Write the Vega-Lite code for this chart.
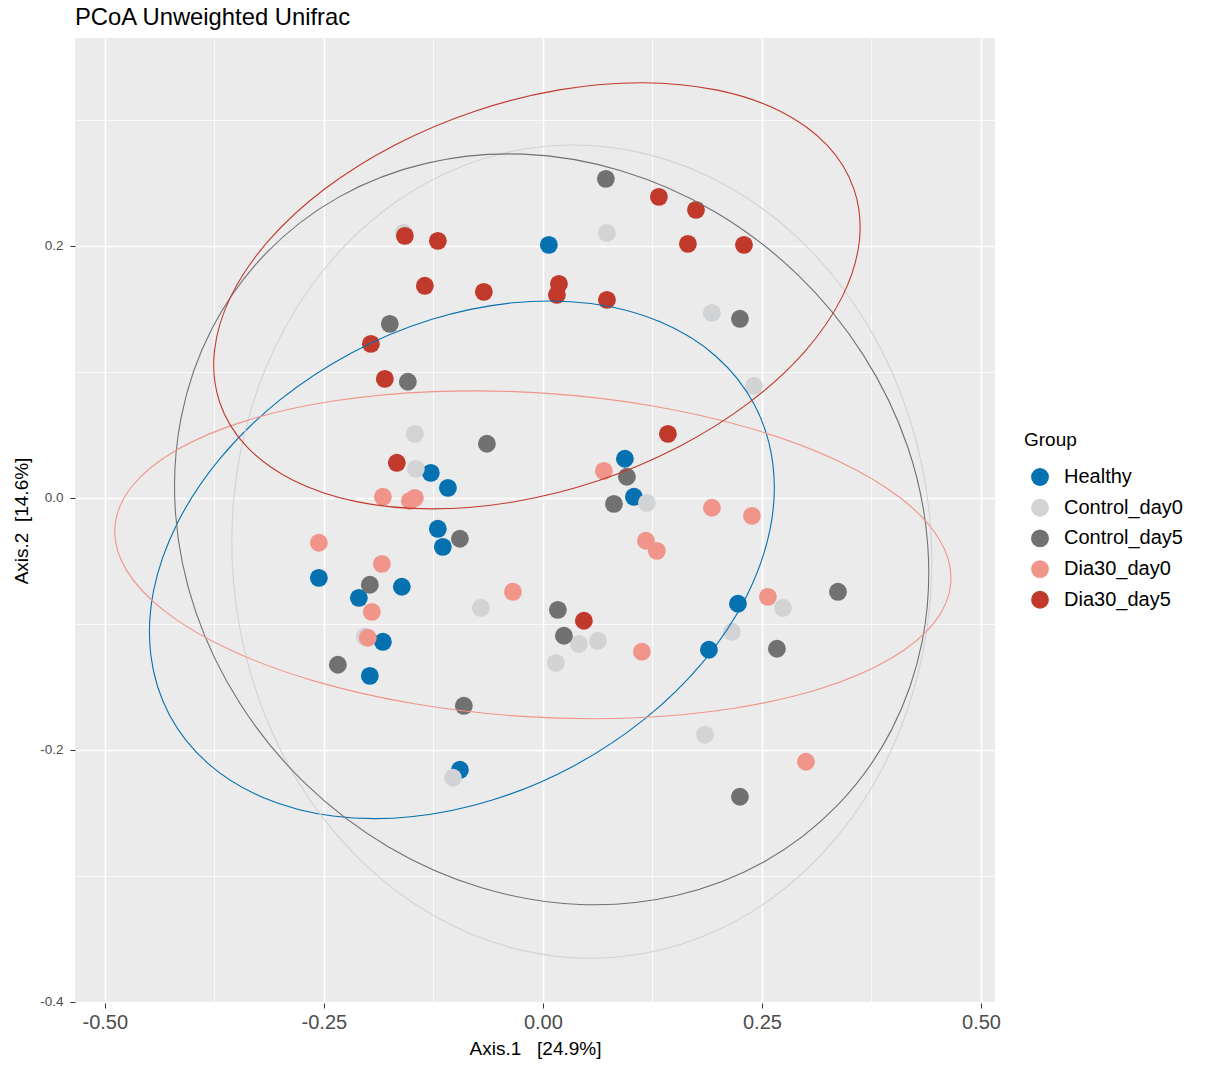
{
  "$schema": "https://vega.github.io/schema/vega-lite/v6.json",
  "autosize": {"type": "none"},
  "padding": {"left": 75, "top": 38, "right": 211, "bottom": 62},
  "width": 920,
  "height": 965,
  "background": "white",
  "title": {"text": "PCoA Unweighted Unifrac", "anchor": "start", "frame": "group", "fontSize": 23.8, "fontWeight": "normal", "font": "Liberation Sans", "color": "#000000", "offset": 8},
  "config": {
    "view": {"fill": "#EBEBEB", "stroke": null},
    "font": "Liberation Sans",
    "axis": {"domain": false, "gridColor": "#FFFFFF", "tickColor": "#333333", "tickSize": 5, "labelColor": "#4D4D4D", "titleColor": "#000000", "titleFontWeight": "normal", "labelFont": "Liberation Sans", "titleFont": "Liberation Sans"}
  },
  "datasets": {
    "points": [
      {"group": "Healthy", "x": 0.0068, "y": 0.2008},
      {"group": "Healthy", "x": -0.1279, "y": 0.0198},
      {"group": "Healthy", "x": -0.1084, "y": 0.0079},
      {"group": "Healthy", "x": 0.0936, "y": 0.0310},
      {"group": "Healthy", "x": 0.1039, "y": 0.0008},
      {"group": "Healthy", "x": -0.1199, "y": -0.0246},
      {"group": "Healthy", "x": -0.1142, "y": -0.0389},
      {"group": "Healthy", "x": -0.2557, "y": -0.0635},
      {"group": "Healthy", "x": -0.2100, "y": -0.0794},
      {"group": "Healthy", "x": -0.1610, "y": -0.0706},
      {"group": "Healthy", "x": -0.1826, "y": -0.1143},
      {"group": "Healthy", "x": -0.1975, "y": -0.1413},
      {"group": "Healthy", "x": 0.2226, "y": -0.0841},
      {"group": "Healthy", "x": 0.1895, "y": -0.1206},
      {"group": "Healthy", "x": -0.0947, "y": -0.2159},
      {"group": "Control_day0", "x": -0.1587, "y": 0.2103},
      {"group": "Control_day0", "x": 0.0731, "y": 0.2103},
      {"group": "Control_day0", "x": 0.1929, "y": 0.1468},
      {"group": "Control_day0", "x": 0.2409, "y": 0.0889},
      {"group": "Control_day0", "x": -0.1461, "y": 0.0508},
      {"group": "Control_day0", "x": -0.1450, "y": 0.0230},
      {"group": "Control_day0", "x": 0.1187, "y": -0.0040},
      {"group": "Control_day0", "x": -0.0708, "y": -0.0873},
      {"group": "Control_day0", "x": 0.0148, "y": -0.1310},
      {"group": "Control_day0", "x": 0.0411, "y": -0.1159},
      {"group": "Control_day0", "x": 0.0628, "y": -0.1135},
      {"group": "Control_day0", "x": 0.2158, "y": -0.1063},
      {"group": "Control_day0", "x": 0.2740, "y": -0.0873},
      {"group": "Control_day0", "x": 0.1849, "y": -0.1881},
      {"group": "Control_day0", "x": -0.1027, "y": -0.2222},
      {"group": "Control_day0", "x": -0.2032, "y": -0.1103},
      {"group": "Control_day5", "x": 0.0719, "y": 0.2532},
      {"group": "Control_day5", "x": 0.2249, "y": 0.1421},
      {"group": "Control_day5", "x": -0.1747, "y": 0.1381},
      {"group": "Control_day5", "x": -0.1541, "y": 0.0921},
      {"group": "Control_day5", "x": -0.0639, "y": 0.0429},
      {"group": "Control_day5", "x": 0.0959, "y": 0.0167},
      {"group": "Control_day5", "x": 0.0811, "y": -0.0048},
      {"group": "Control_day5", "x": -0.0947, "y": -0.0325},
      {"group": "Control_day5", "x": -0.1975, "y": -0.0690},
      {"group": "Control_day5", "x": -0.2340, "y": -0.1325},
      {"group": "Control_day5", "x": 0.0171, "y": -0.0889},
      {"group": "Control_day5", "x": 0.0240, "y": -0.1095},
      {"group": "Control_day5", "x": 0.3368, "y": -0.0746},
      {"group": "Control_day5", "x": 0.2671, "y": -0.1198},
      {"group": "Control_day5", "x": -0.0902, "y": -0.1651},
      {"group": "Control_day5", "x": 0.2249, "y": -0.2373},
      {"group": "Dia30_day0", "x": 0.0696, "y": 0.0214},
      {"group": "Dia30_day0", "x": -0.1826, "y": 0.0008},
      {"group": "Dia30_day0", "x": -0.1518, "y": -0.0024},
      {"group": "Dia30_day0", "x": -0.1461, "y": 0.0000},
      {"group": "Dia30_day0", "x": -0.2557, "y": -0.0357},
      {"group": "Dia30_day0", "x": -0.1838, "y": -0.0524},
      {"group": "Dia30_day0", "x": -0.1952, "y": -0.0905},
      {"group": "Dia30_day0", "x": -0.1998, "y": -0.1111},
      {"group": "Dia30_day0", "x": -0.0342, "y": -0.0746},
      {"group": "Dia30_day0", "x": 0.1176, "y": -0.0341},
      {"group": "Dia30_day0", "x": 0.1301, "y": -0.0421},
      {"group": "Dia30_day0", "x": 0.1929, "y": -0.0079},
      {"group": "Dia30_day0", "x": 0.2386, "y": -0.0143},
      {"group": "Dia30_day0", "x": 0.2568, "y": -0.0786},
      {"group": "Dia30_day0", "x": 0.1130, "y": -0.1222},
      {"group": "Dia30_day0", "x": 0.3002, "y": -0.2095},
      {"group": "Dia30_day5", "x": 0.1324, "y": 0.2389},
      {"group": "Dia30_day5", "x": 0.1747, "y": 0.2286},
      {"group": "Dia30_day5", "x": 0.1655, "y": 0.2016},
      {"group": "Dia30_day5", "x": 0.2295, "y": 0.2008},
      {"group": "Dia30_day5", "x": -0.1575, "y": 0.2079},
      {"group": "Dia30_day5", "x": -0.1199, "y": 0.2040},
      {"group": "Dia30_day5", "x": -0.1347, "y": 0.1683},
      {"group": "Dia30_day5", "x": -0.0674, "y": 0.1635},
      {"group": "Dia30_day5", "x": 0.0183, "y": 0.1698},
      {"group": "Dia30_day5", "x": 0.0160, "y": 0.1611},
      {"group": "Dia30_day5", "x": 0.0731, "y": 0.1571},
      {"group": "Dia30_day5", "x": -0.1963, "y": 0.1222},
      {"group": "Dia30_day5", "x": -0.1804, "y": 0.0944},
      {"group": "Dia30_day5", "x": -0.1667, "y": 0.0278},
      {"group": "Dia30_day5", "x": 0.1427, "y": 0.0508},
      {"group": "Dia30_day5", "x": 0.0468, "y": -0.0976}
    ],
    "ellipses": [
      {"group": "Healthy", "i": 1, "x": 0.2413, "y": 0.0740},
      {"group": "Healthy", "i": 2, "x": 0.2624, "y": 0.0273},
      {"group": "Healthy", "i": 3, "x": 0.2594, "y": -0.0247},
      {"group": "Healthy", "i": 4, "x": 0.2323, "y": -0.0783},
      {"group": "Healthy", "i": 5, "x": 0.1831, "y": -0.1300},
      {"group": "Healthy", "i": 6, "x": 0.1152, "y": -0.1761},
      {"group": "Healthy", "i": 7, "x": 0.0331, "y": -0.2136},
      {"group": "Healthy", "i": 8, "x": -0.0576, "y": -0.2399},
      {"group": "Healthy", "i": 9, "x": -0.1506, "y": -0.2532},
      {"group": "Healthy", "i": 10, "x": -0.2397, "y": -0.2526},
      {"group": "Healthy", "i": 11, "x": -0.3187, "y": -0.2381},
      {"group": "Healthy", "i": 12, "x": -0.3823, "y": -0.2108},
      {"group": "Healthy", "i": 13, "x": -0.4262, "y": -0.1724},
      {"group": "Healthy", "i": 14, "x": -0.4473, "y": -0.1257},
      {"group": "Healthy", "i": 15, "x": -0.4443, "y": -0.0737},
      {"group": "Healthy", "i": 16, "x": -0.4172, "y": -0.0201},
      {"group": "Healthy", "i": 17, "x": -0.3681, "y": 0.0315},
      {"group": "Healthy", "i": 18, "x": -0.3001, "y": 0.0777},
      {"group": "Healthy", "i": 19, "x": -0.2180, "y": 0.1152},
      {"group": "Healthy", "i": 20, "x": -0.1274, "y": 0.1415},
      {"group": "Healthy", "i": 21, "x": -0.0343, "y": 0.1548},
      {"group": "Healthy", "i": 22, "x": 0.0547, "y": 0.1542},
      {"group": "Healthy", "i": 23, "x": 0.1338, "y": 0.1397},
      {"group": "Healthy", "i": 24, "x": 0.1974, "y": 0.1124},
      {"group": "Control_day0", "i": 1, "x": 0.0815, "y": -0.3647},
      {"group": "Control_day0", "i": 2, "x": -0.0227, "y": -0.3594},
      {"group": "Control_day0", "i": 3, "x": -0.1223, "y": -0.3326},
      {"group": "Control_day0", "i": 4, "x": -0.2106, "y": -0.2860},
      {"group": "Control_day0", "i": 5, "x": -0.2815, "y": -0.2229},
      {"group": "Control_day0", "i": 6, "x": -0.3301, "y": -0.1474},
      {"group": "Control_day0", "i": 7, "x": -0.3533, "y": -0.0648},
      {"group": "Control_day0", "i": 8, "x": -0.3493, "y": 0.0192},
      {"group": "Control_day0", "i": 9, "x": -0.3186, "y": 0.0991},
      {"group": "Control_day0", "i": 10, "x": -0.2630, "y": 0.1693},
      {"group": "Control_day0", "i": 11, "x": -0.1866, "y": 0.2251},
      {"group": "Control_day0", "i": 12, "x": -0.0943, "y": 0.2626},
      {"group": "Control_day0", "i": 13, "x": 0.0073, "y": 0.2793},
      {"group": "Control_day0", "i": 14, "x": 0.1115, "y": 0.2740},
      {"group": "Control_day0", "i": 15, "x": 0.2112, "y": 0.2472},
      {"group": "Control_day0", "i": 16, "x": 0.2994, "y": 0.2006},
      {"group": "Control_day0", "i": 17, "x": 0.3703, "y": 0.1375},
      {"group": "Control_day0", "i": 18, "x": 0.4190, "y": 0.0620},
      {"group": "Control_day0", "i": 19, "x": 0.4421, "y": -0.0206},
      {"group": "Control_day0", "i": 20, "x": 0.4382, "y": -0.1046},
      {"group": "Control_day0", "i": 21, "x": 0.4074, "y": -0.1845},
      {"group": "Control_day0", "i": 22, "x": 0.3518, "y": -0.2547},
      {"group": "Control_day0", "i": 23, "x": 0.2754, "y": -0.3105},
      {"group": "Control_day0", "i": 24, "x": 0.1832, "y": -0.3480},
      {"group": "Control_day5", "i": 1, "x": 0.3363, "y": -0.2440},
      {"group": "Control_day5", "i": 2, "x": 0.2526, "y": -0.2889},
      {"group": "Control_day5", "i": 3, "x": 0.1523, "y": -0.3157},
      {"group": "Control_day5", "i": 4, "x": 0.0423, "y": -0.3228},
      {"group": "Control_day5", "i": 5, "x": -0.0699, "y": -0.3095},
      {"group": "Control_day5", "i": 6, "x": -0.1766, "y": -0.2769},
      {"group": "Control_day5", "i": 7, "x": -0.2707, "y": -0.2271},
      {"group": "Control_day5", "i": 8, "x": -0.3455, "y": -0.1635},
      {"group": "Control_day5", "i": 9, "x": -0.3962, "y": -0.0905},
      {"group": "Control_day5", "i": 10, "x": -0.4192, "y": -0.0130},
      {"group": "Control_day5", "i": 11, "x": -0.4129, "y": 0.0636},
      {"group": "Control_day5", "i": 12, "x": -0.3778, "y": 0.1342},
      {"group": "Control_day5", "i": 13, "x": -0.3162, "y": 0.1940},
      {"group": "Control_day5", "i": 14, "x": -0.2325, "y": 0.2389},
      {"group": "Control_day5", "i": 15, "x": -0.1322, "y": 0.2657},
      {"group": "Control_day5", "i": 16, "x": -0.0222, "y": 0.2728},
      {"group": "Control_day5", "i": 17, "x": 0.0900, "y": 0.2595},
      {"group": "Control_day5", "i": 18, "x": 0.1967, "y": 0.2269},
      {"group": "Control_day5", "i": 19, "x": 0.2907, "y": 0.1771},
      {"group": "Control_day5", "i": 20, "x": 0.3656, "y": 0.1135},
      {"group": "Control_day5", "i": 21, "x": 0.4163, "y": 0.0405},
      {"group": "Control_day5", "i": 22, "x": 0.4392, "y": -0.0370},
      {"group": "Control_day5", "i": 23, "x": 0.4330, "y": -0.1136},
      {"group": "Control_day5", "i": 24, "x": 0.3979, "y": -0.1842},
      {"group": "Dia30_day0", "i": 1, "x": 0.4656, "y": -0.0670},
      {"group": "Dia30_day0", "i": 2, "x": 0.4462, "y": -0.0995},
      {"group": "Dia30_day0", "i": 3, "x": 0.3957, "y": -0.1282},
      {"group": "Dia30_day0", "i": 4, "x": 0.3173, "y": -0.1514},
      {"group": "Dia30_day0", "i": 5, "x": 0.2166, "y": -0.1672},
      {"group": "Dia30_day0", "i": 6, "x": 0.1004, "y": -0.1748},
      {"group": "Dia30_day0", "i": 7, "x": -0.0235, "y": -0.1735},
      {"group": "Dia30_day0", "i": 8, "x": -0.1466, "y": -0.1635},
      {"group": "Dia30_day0", "i": 9, "x": -0.2604, "y": -0.1455},
      {"group": "Dia30_day0", "i": 10, "x": -0.3573, "y": -0.1206},
      {"group": "Dia30_day0", "i": 11, "x": -0.4306, "y": -0.0905},
      {"group": "Dia30_day0", "i": 12, "x": -0.4753, "y": -0.0574},
      {"group": "Dia30_day0", "i": 13, "x": -0.4885, "y": -0.0235},
      {"group": "Dia30_day0", "i": 14, "x": -0.4691, "y": 0.0090},
      {"group": "Dia30_day0", "i": 15, "x": -0.4185, "y": 0.0378},
      {"group": "Dia30_day0", "i": 16, "x": -0.3402, "y": 0.0609},
      {"group": "Dia30_day0", "i": 17, "x": -0.2395, "y": 0.0768},
      {"group": "Dia30_day0", "i": 18, "x": -0.1232, "y": 0.0843},
      {"group": "Dia30_day0", "i": 19, "x": 0.0007, "y": 0.0831},
      {"group": "Dia30_day0", "i": 20, "x": 0.1238, "y": 0.0731},
      {"group": "Dia30_day0", "i": 21, "x": 0.2376, "y": 0.0550},
      {"group": "Dia30_day0", "i": 22, "x": 0.3345, "y": 0.0301},
      {"group": "Dia30_day0", "i": 23, "x": 0.4078, "y": 0.0001},
      {"group": "Dia30_day0", "i": 24, "x": 0.4525, "y": -0.0331},
      {"group": "Dia30_day5", "i": 1, "x": 0.3552, "y": 0.2447},
      {"group": "Dia30_day5", "i": 2, "x": 0.3612, "y": 0.2039},
      {"group": "Dia30_day5", "i": 3, "x": 0.3420, "y": 0.1601},
      {"group": "Dia30_day5", "i": 4, "x": 0.2991, "y": 0.1163},
      {"group": "Dia30_day5", "i": 5, "x": 0.2354, "y": 0.0756},
      {"group": "Dia30_day5", "i": 6, "x": 0.1551, "y": 0.0406},
      {"group": "Dia30_day5", "i": 7, "x": 0.0638, "y": 0.0137},
      {"group": "Dia30_day5", "i": 8, "x": -0.0323, "y": -0.0031},
      {"group": "Dia30_day5", "i": 9, "x": -0.1267, "y": -0.0088},
      {"group": "Dia30_day5", "i": 10, "x": -0.2129, "y": -0.0030},
      {"group": "Dia30_day5", "i": 11, "x": -0.2851, "y": 0.0140},
      {"group": "Dia30_day5", "i": 12, "x": -0.3383, "y": 0.0409},
      {"group": "Dia30_day5", "i": 13, "x": -0.3689, "y": 0.0759},
      {"group": "Dia30_day5", "i": 14, "x": -0.3748, "y": 0.1168},
      {"group": "Dia30_day5", "i": 15, "x": -0.3557, "y": 0.1605},
      {"group": "Dia30_day5", "i": 16, "x": -0.3128, "y": 0.2043},
      {"group": "Dia30_day5", "i": 17, "x": -0.2491, "y": 0.2451},
      {"group": "Dia30_day5", "i": 18, "x": -0.1688, "y": 0.2801},
      {"group": "Dia30_day5", "i": 19, "x": -0.0775, "y": 0.3069},
      {"group": "Dia30_day5", "i": 20, "x": 0.0186, "y": 0.3238},
      {"group": "Dia30_day5", "i": 21, "x": 0.1130, "y": 0.3295},
      {"group": "Dia30_day5", "i": 22, "x": 0.1992, "y": 0.3236},
      {"group": "Dia30_day5", "i": 23, "x": 0.2714, "y": 0.3067},
      {"group": "Dia30_day5", "i": 24, "x": 0.3246, "y": 0.2798}
    ]
  },
  "layer": [
    {
      "data": {"name": "points"},
      "mark": {"type": "point", "filled": true, "opacity": 1, "size": 320, "strokeWidth": 0},
      "encoding": {
        "x": {
          "field": "x", "type": "quantitative",
          "scale": {"domain": [-0.534, 0.516], "nice": false, "zero": false},
          "axis": {"values": [-0.5, -0.25, 0, 0.25, 0.5], "labelExpr": "replace(format(datum.value, '.2f'), '\u2212', '-')", "labelFontSize": 20, "labelPadding": 4, "grid": true, "gridWidth": 1.6, "title": "Axis.1\u00a0\u00a0\u00a0[24.9%]", "titleFontSize": 19, "titlePadding": 7}
        },
        "y": {
          "field": "y", "type": "quantitative",
          "scale": {"domain": [-0.401, 0.365], "nice": false, "zero": false},
          "axis": {"values": [-0.4, -0.2, 0, 0.2], "labelExpr": "replace(format(datum.value, '.1f'), '\u2212', '-')", "labelFontSize": 13.5, "labelPadding": 7, "grid": true, "gridWidth": 1.6, "title": "Axis.2\u00a0\u00a0[14.6%]", "titleFontSize": 19, "titlePadding": 8}
        },
        "color": {
          "field": "group", "type": "nominal",
          "scale": {"domain": ["Healthy", "Control_day0", "Control_day5", "Dia30_day0", "Dia30_day5"], "range": ["#0571B0", "#D1D3D4", "#717171", "#F1948A", "#C0392B"]},
          "legend": {"title": "Group", "orient": "none", "legendX": 949, "legendY": 393, "titleFontSize": 19, "titleFontWeight": "normal", "titleColor": "#000000", "titlePadding": 17, "labelFontSize": 20, "labelColor": "#000000", "symbolSize": 320, "symbolType": "circle", "symbolOffset": 6, "rowPadding": 10.7, "labelOffset": 14, "symbolStrokeWidth": 0}
        }
      }
    },
    {
      "data": {"name": "ellipses"},
      "mark": {"type": "line", "interpolate": "cardinal-closed", "strokeWidth": 1.1},
      "encoding": {
        "x": {"field": "x", "type": "quantitative", "axis": {"values": [-0.375, -0.125, 0.125, 0.375], "orient": "bottom", "labels": false, "ticks": false, "domain": false, "title": null, "grid": true, "gridWidth": 0.8}},
        "y": {"field": "y", "type": "quantitative", "axis": {"values": [-0.3, -0.1, 0.1, 0.3], "orient": "left", "labels": false, "ticks": false, "domain": false, "title": null, "grid": true, "gridWidth": 0.8}},
        "color": {"field": "group", "type": "nominal", "legend": null},
        "detail": {"field": "group"},
        "order": {"field": "i", "type": "quantitative"}
      }
    }
  ],
  "resolve": {"axis": {"x": "independent", "y": "independent"}}
}
